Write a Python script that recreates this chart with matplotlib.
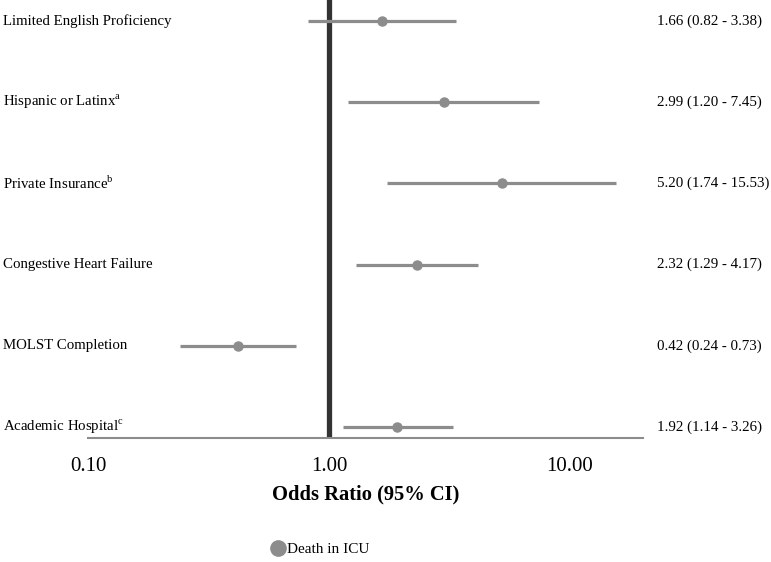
import numpy as np
import matplotlib
matplotlib.use('Agg')
import matplotlib.pyplot as plt
import matplotlib.transforms as mtransforms
from matplotlib.lines import Line2D

plt.rcParams['font.family'] = ['Liberation Serif', 'DejaVu Serif']
plt.rcParams['mathtext.fontset'] = 'custom'
plt.rcParams['mathtext.rm'] = 'Liberation Serif'

# Data
labels = ['Limited English Proficiency', 'Hispanic or Latinx$^{\\mathrm{a}}$',
          'Private Insurance$^{\\mathrm{b}}$', 'Congestive Heart Failure',
          'MOLST Completion', 'Academic Hospital$^{\\mathrm{c}}$']
odds = np.array([1.66, 2.99, 5.20, 2.32, 0.42, 1.92])
lower = np.array([0.82, 1.20, 1.74, 1.29, 0.24, 1.14])
upper = np.array([3.38, 7.45, 15.53, 4.17, 0.73, 3.26])
xticks = [0.1, 1.0, 10.0]

gray = '#8c8c8c'

fig = plt.figure(figsize=(7.71, 5.62), dpi=100)
ax = fig.add_axes([88 / 771, 1 - 438 / 562, (643 - 88) / 771, 438 / 562])

ypos = np.arange(len(labels))

# reference line at OR = 1
ax.axvline(1.0, color='#333333', lw=3.8, zorder=1)

ax.hlines(ypos, lower, upper, color=gray, lw=2.3, zorder=2)
ax.plot(odds, ypos, 'o', color=gray, ms=6.5, zorder=3)

ax.set_xscale('log')
ax.set_xlim(0.1, 20.1)
ax.set_ylim(5.135, -0.259)
ax.set_xticks(xticks)
ax.set_xticklabels(['%.2f' % t for t in xticks], fontsize=15)
ax.minorticks_off()
ax.tick_params(axis='x', length=0, pad=14)
ax.set_yticks([])
for s in ['top', 'left', 'right']:
    ax.spines[s].set_visible(False)
ax.spines['bottom'].set_color(gray)
ax.spines['bottom'].set_linewidth(1.5)

ax.set_xlabel('Odds Ratio (95% CI)', fontsize=14.8, fontweight='bold', labelpad=6)

# row labels on the left, estimates on the right
trans = mtransforms.blended_transform_factory(fig.transFigure, ax.transData)
for i, lab in enumerate(labels):
    ax.text(3 / 771, i, lab, transform=trans, ha='left', va='center', fontsize=10.7)
    ax.text(657 / 771, i, '%.2f (%.2f - %.2f)' % (odds[i], lower[i], upper[i]),
            transform=trans, ha='left', va='center', fontsize=10.8)

handle = Line2D([], [], marker='o', color=gray, ls='none', ms=11)
fig.legend([handle], ['Death in ICU'], loc='center', bbox_to_anchor=(320 / 771, 1 - 549 / 562),
           frameon=False, fontsize=11, handletextpad=0.1, handlelength=1.0)

plt.savefig('out.png', dpi=100)
